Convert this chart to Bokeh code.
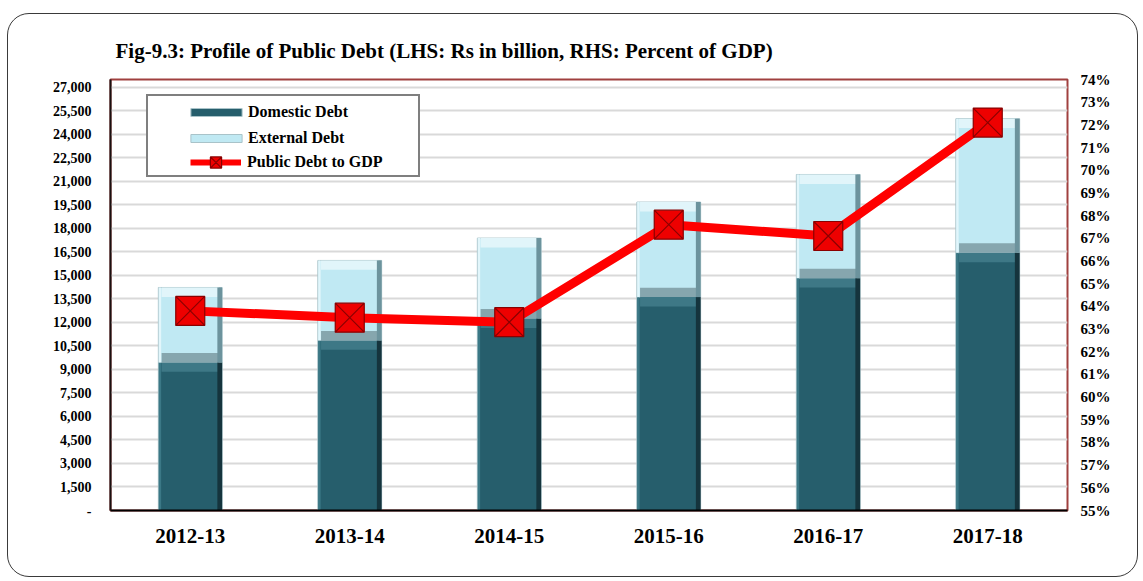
from bokeh.plotting import figure
from bokeh.models import (ColumnDataSource, Range1d, LinearAxis, FixedTicker, Legend,
                          LegendItem, FactorRange)
from bokeh.transform import dodge
from bokeh.embed import file_html
from bokeh.resources import INLINE

# ---------------- data ----------------
years = ["2012-13", "2013-14", "2014-15", "2015-16", "2016-17", "2017-18"]
domestic = [9450, 10850, 12250, 13615, 14825, 16445]
external = [4780, 5105, 5130, 6065, 6615, 8555]
debt_to_gdp = [63.8, 63.5, 63.3, 67.6, 67.1, 72.1]

left_ticks = [0, 1500, 3000, 4500, 6000, 7500, 9000, 10500, 12000, 13500, 15000,
              16500, 18000, 19500, 21000, 22500, 24000, 25500, 27000]
left_tick_labels = ["-", "1,500", "3,000", "4,500", "6,000", "7,500", "9,000", "10,500",
                    "12,000", "13,500", "15,000", "16,500", "18,000", "19,500", "21,000",
                    "22,500", "24,000", "25,500", "27,000"]
right_ticks = [55, 56, 57, 58, 59, 60, 61, 62, 63, 64, 65, 66, 67, 68, 69, 70, 71, 72, 73, 74]
right_tick_labels = ["55%", "56%", "57%", "58%", "59%", "60%", "61%", "62%", "63%", "64%",
                     "65%", "66%", "67%", "68%", "69%", "70%", "71%", "72%", "73%", "74%"]

total = [d + e for d, e in zip(domestic, external)]
src = ColumnDataSource(dict(year=years, domestic=domestic, external=external,
                            total=total, gdp=debt_to_gdp))

FONT = "Liberation Serif"
DOM_C = "#265E6C"
EXT_C = "#C0E9F3"
RED = "#FF0000"
BEVEL = 600  # bevel band depth (in axis units) for the 3-D look

p = figure(x_range=FactorRange(*years), y_range=Range1d(0, 27500),
           width=1131, height=564, output_backend="svg", toolbar_location=None,
           min_border_left=102, min_border_right=72, min_border_top=65,
           min_border_bottom=68)
p.extra_y_ranges = {"pct": Range1d(55, 74)}
p.border_fill_color = None
p.background_fill_color = "white"
p.outline_line_color = "#A0403F"
p.outline_line_width = 2
p.styles = {"border": "1.5px solid #3a3a3a", "border-radius": "22px",
            "margin-top": "13px", "margin-left": "7px", "overflow": "hidden"}

# title
p.title.text = "Fig-9.3: Profile of Public Debt (LHS: Rs in billion, RHS: Percent of GDP)"
p.title.text_font = FONT
p.title.text_font_style = "bold"
p.title.text_font_size = "21px"
p.title.text_color = "black"
p.title.align = "left"
p.title.vertical_align = "middle"
p.title.offset = 5
p.title.standoff = 31

# grid
p.xgrid.grid_line_color = None
p.ygrid.ticker = FixedTicker(ticks=left_ticks)
p.ygrid.grid_line_color = "#D9D9D9"
p.ygrid.grid_line_width = 2

# bars
dom = p.vbar(x="year", top="domestic", bottom=0, width=0.4, source=src,
             fill_color=DOM_C, line_color="#A9C3C9", line_width=1)
ext = p.vbar(x="year", top="total", bottom="domestic", width=0.4, source=src,
             fill_color=EXT_C, line_color="#A9C3C9", line_width=1)
# bevel bands
p.vbar(x="year", top="domestic", bottom=dodge("domestic", -BEVEL), width=0.36, source=src,
       fill_color="#3E7886", line_color=None)
p.vbar(x="year", top="total", bottom=dodge("total", -BEVEL), width=0.36, source=src,
       fill_color="#E1F5FA", line_color=None)
p.vbar(x="year", top=dodge("domestic", BEVEL), bottom="domestic", width=0.36, source=src,
       fill_color="#86A6AE", line_color=None)
# side shading
p.vbar(x=dodge("year", 0.185, range=p.x_range), top="domestic", bottom=0, width=0.03,
       source=src, fill_color="#15343D", line_color=None)
p.vbar(x=dodge("year", -0.19, range=p.x_range), top="domestic", bottom=0, width=0.015,
       source=src, fill_color="#3B7886", line_color=None)
p.vbar(x=dodge("year", 0.185, range=p.x_range), top="total", bottom="domestic", width=0.03,
       source=src, fill_color="#6C939D", line_color=None)
p.vbar(x=dodge("year", -0.19, range=p.x_range), top="total", bottom="domestic", width=0.015,
       source=src, fill_color="#E2F6FB", line_color=None)

# line + markers (thin line lies under the thick one; it is the legend swatch)
ln_thin = p.line(x="year", y="gdp", y_range_name="pct", source=src,
                 line_color=RED, line_width=6)
ln = p.line(x="year", y="gdp", y_range_name="pct", source=src,
            line_color=RED, line_width=9)
mk = p.scatter(x="year", y="gdp", y_range_name="pct", source=src, marker="square_x",
               size=29, fill_color="#EE0000", line_color="#8A0000", line_width=1.2)

# axes
for ax in p.yaxis:
    ax.ticker = FixedTicker(ticks=left_ticks)
    ax.major_label_overrides = dict(zip(left_ticks, left_tick_labels))
    ax.axis_line_color = "#1A1010"
    ax.axis_line_width = 2
    ax.major_tick_line_color = None
    ax.minor_tick_line_color = None
    ax.major_label_text_font = FONT
    ax.major_label_text_font_style = "bold"
    ax.major_label_text_font_size = "14px"
    ax.major_label_text_color = "black"
    ax.major_label_standoff = 13

rax = LinearAxis(y_range_name="pct", ticker=FixedTicker(ticks=right_ticks))
rax.major_label_overrides = dict(zip(right_ticks, right_tick_labels))
rax.axis_line_color = None
rax.major_tick_line_color = None
rax.minor_tick_line_color = None
rax.major_label_text_font = FONT
rax.major_label_text_font_style = "bold"
rax.major_label_text_font_size = "15px"
rax.major_label_text_color = "black"
rax.major_label_standoff = 7
p.add_layout(rax, "right")

xa = p.xaxis[0]
xa.axis_line_color = "black"
xa.axis_line_width = 2
xa.major_tick_line_color = None
xa.minor_tick_line_color = None
xa.major_label_text_font = FONT
xa.major_label_text_font_style = "bold"
xa.major_label_text_font_size = "21px"
xa.major_label_text_color = "black"
xa.major_label_standoff = 12

# legend frame (an empty-looking legend that only draws the box)
box_dummy = p.scatter(x=[], y=[], marker="square", fill_alpha=0, line_alpha=0)
legend_box = Legend(items=[LegendItem(label=" ", renderers=[box_dummy])],
                    location=(36, 333))
legend_box.glyph_width = 1
legend_box.glyph_height = 1
legend_box.label_standoff = 0
legend_box.label_width = 265
legend_box.label_height = 75
legend_box.padding = 2
legend_box.border_line_color = "black"
legend_box.border_line_width = 2
legend_box.background_fill_color = "white"
legend_box.background_fill_alpha = 1
p.add_layout(legend_box, "center")

def style_legend(lg):
    lg.spacing = 0
    lg.padding = 0
    lg.label_height = 26
    lg.label_text_font = FONT
    lg.label_text_font_style = "bold"
    lg.label_text_font_size = "16px"
    lg.label_text_color = "black"
    lg.border_line_color = None
    lg.background_fill_alpha = 0

legend_bars = Legend(items=[
    LegendItem(label="Domestic Debt", renderers=[dom]),
    LegendItem(label="External Debt", renderers=[ext]),
], location=(74, 359))
style_legend(legend_bars)
legend_bars.glyph_width = 64
legend_bars.glyph_height = 10
legend_bars.label_standoff = 0
p.add_layout(legend_bars, "center")

legend_line = Legend(items=[
    LegendItem(label="Public Debt to GDP", renderers=[ln_thin, mk]),
], location=(80, 334))
style_legend(legend_line)
legend_line.glyph_width = 51
legend_line.glyph_height = 28
legend_line.label_height = 28
legend_line.label_standoff = 6
p.add_layout(legend_line, "center")

open("out.html", "w").write(file_html(p, INLINE))
